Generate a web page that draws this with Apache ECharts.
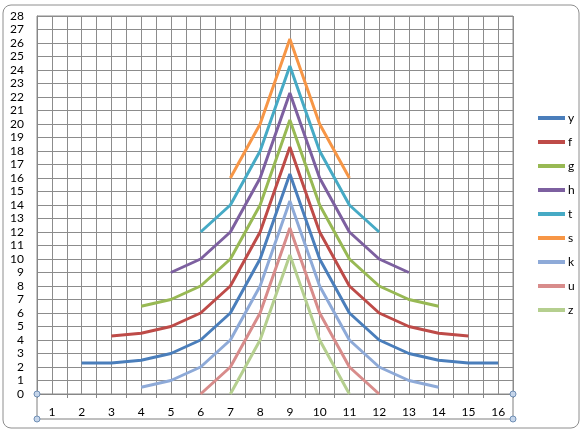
<!DOCTYPE html>
<html>
<head>
<meta charset="utf-8">
<script src="https://cdn.jsdelivr.net/npm/echarts@6/dist/echarts.min.js"></script>
<style>
  html, body { margin: 0; padding: 0; background: #fff; }
  #chart { width: 585px; height: 433px; }
</style>
</head>
<body>
<div id="chart"></div>
<script>
// x categories 1..16
var cats = ['1', '2', '3', '4', '5', '6', '7', '8', '9', '10', '11', '12', '13', '14', '15', '16']

// series values, null where the series has no point
var y = [null, 2.3, 2.3, 2.5, 3, 4, 6, 10, 16.3, 10, 6, 4, 3, 2.5, 2.3, 2.3]
var f = [null, null, 4.3, 4.5, 5, 6, 8, 12, 18.3, 12, 8, 6, 5, 4.5, 4.3, null]
var g = [null, null, null, 6.5, 7, 8, 10, 14, 20.3, 14, 10, 8, 7, 6.5, null, null]
var h = [null, null, null, null, 9, 10, 12, 16, 22.3, 16, 12, 10, 9, null, null, null]
var t = [null, null, null, null, null, 12, 14, 18, 24.3, 18, 14, 12, null, null, null, null]
var s = [null, null, null, null, null, null, 16, 20, 26.3, 20, 16, null, null, null, null, null]
var k = [null, null, null, 0.5, 1, 2, 4, 8, 14.3, 8, 4, 2, 1, 0.5, null, null]
var u = [null, null, null, null, null, 0, 2, 6, 12.3, 6, 2, 0, null, null, null, null]
var z = [null, null, null, null, null, null, 0, 4, 10.3, 4, 0, null, null, null, null, null]

var names = ['y', 'f', 'g', 'h', 't', 's', 'k', 'u', 'z']
var values = [y, f, g, h, t, s, k, u, z]
var colors = ['#4a7ebb', '#be4b48', '#98b954', '#7d60a0', '#46aac5', '#f79646', '#8eaad8', '#d88c8b', '#b5cf8f']

var gridColor = '#8c8c8c'
var font = 'Lato, "Open Sans", sans-serif'

var chart = echarts.init(document.getElementById('chart'))

var series = names.map(function (n, i) {
  return {
    name: n,
    type: 'line',
    xAxisIndex: 0,
    data: values[i],
    showSymbol: false,
    symbol: 'none',
    connectNulls: false,
    lineStyle: { color: colors[i], width: 3 },
    itemStyle: { color: colors[i] },
    animation: false
  }
})

// selection box round the x axis labels (as in the screenshot)
var handle = function (x, yy) {
  return {
    type: 'circle',
    shape: { cx: x, cy: yy, r: 3 },
    style: { fill: '#c5d5ea', stroke: '#6f8fb5', lineWidth: 1 },
    z: 100
  }
}

chart.setOption({
  backgroundColor: '#fff',
  animation: false,
  grid: {
    left: 37,
    top: 16,
    width: 476,
    height: 378,
    show: true,
    borderColor: gridColor,
    borderWidth: 1
  },
  legend: {
    orient: 'vertical',
    left: 533,
    top: 106,
    icon: 'rect',
    itemWidth: 27,
    itemHeight: 4,
    itemGap: 10,
    data: names,
    textStyle: { fontFamily: font, fontSize: 12, color: '#000', lineHeight: 14, padding: [0, 0, 0, -2] }
  },
  xAxis: [
    {
      type: 'category',
      data: cats,
      boundaryGap: true,
      axisLine: { lineStyle: { color: '#868686', width: 1 } },
      axisTick: { show: true, length: 4, lineStyle: { color: '#868686' } },
      axisLabel: { fontFamily: font, fontSize: 12, color: '#000', margin: 12 },
      splitLine: { show: false }
    },
    {
      type: 'value',
      min: 0.5,
      max: 16.5,
      interval: 0.5,
      position: 'bottom',
      axisLine: { show: false },
      axisTick: { show: false },
      axisLabel: { show: false },
      splitLine: { show: true, lineStyle: { color: gridColor, width: 1 } }
    }
  ],
  yAxis: {
    type: 'value',
    min: 0,
    max: 28,
    interval: 1,
    axisLine: { show: true, lineStyle: { color: '#868686' } },
    axisTick: { show: false },
    axisLabel: { fontFamily: font, fontSize: 12, color: '#000', margin: 13 },
    splitLine: { show: true, lineStyle: { color: gridColor, width: 1 } }
  },
  graphic: [
    {
      type: 'rect',
      shape: { x: 3, y: 5, width: 576, height: 423, r: 8 },
      style: { fill: null, stroke: '#8e8e8e', lineWidth: 1 },
      z: -10
    },
    {
      type: 'polyline',
      shape: { points: [[37, 394], [37, 419], [513, 419], [513, 394]] },
      style: { fill: null, stroke: '#7f7f7f', lineWidth: 1 },
      z: 90
    },
    handle(37, 394),
    handle(37, 419),
    handle(513, 394),
    handle(513, 419)
  ],
  series: series
})
</script>
</body>
</html>
